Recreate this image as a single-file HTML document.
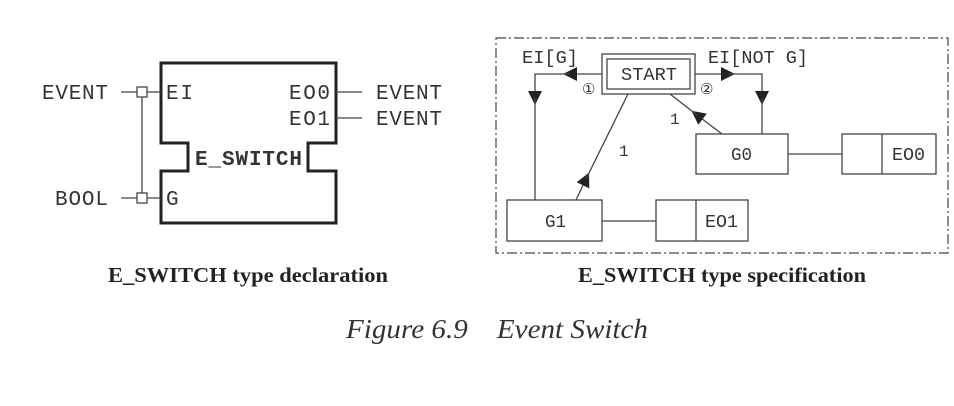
<!DOCTYPE html>
<html><head><meta charset="utf-8"><style>
body{margin:0;background:#fff;}
svg text{font-family:"Liberation Mono",monospace;fill:#333;}
</style></head><body>
<svg width="954" height="401" viewBox="0 0 954 401" xmlns="http://www.w3.org/2000/svg">
<defs><marker id="a" viewBox="0 0 10 10" refX="5" refY="5" markerWidth="16" markerHeight="14" markerUnits="userSpaceOnUse" orient="auto"><path d="M0,0 L10,5 L0,10z" fill="#222"/></marker></defs>
<!-- left block -->
<path d="M161,63 H336 V143 H308 V171 H336 V223 H161 V171 H188 V143 H161 Z" fill="none" stroke="#222" stroke-width="3"/>
<g stroke="#444" stroke-width="1.3" fill="#fff">
<line x1="121" y1="92" x2="161" y2="92"/><line x1="121" y1="198" x2="161" y2="198"/>
<line x1="142" y1="97" x2="142" y2="193"/>
<rect x="137" y="87" width="10" height="10"/><rect x="137" y="193" width="10" height="10"/>
<line x1="336" y1="92" x2="362" y2="92"/><line x1="336" y1="118" x2="362" y2="118"/>
</g>
<g font-size="21" lengthAdjust="spacingAndGlyphs">
<text x="42" y="99" textLength="66">EVENT</text><text x="55" y="205" textLength="53">BOOL</text>
<text x="166" y="99" textLength="27">EI</text><text x="166" y="205" textLength="14">G</text>
<text x="289" y="99" textLength="41">EO0</text><text x="289" y="125" textLength="41">EO1</text>
<text x="376" y="99" textLength="66">EVENT</text><text x="376" y="125" textLength="66">EVENT</text>
<text x="195" y="165" font-weight="bold" fill="#222" textLength="107">E_SWITCH</text>
</g>
<!-- right -->
<rect x="496" y="38" width="452" height="215" fill="none" stroke="#444" stroke-width="1.2" stroke-dasharray="10,3,2,3"/>
<g stroke="#444" stroke-width="1.3" fill="none">
<rect x="602" y="54" width="93" height="40"/><rect x="607" y="59" width="83" height="30"/>
<rect x="507" y="200" width="95" height="41"/>
<rect x="656" y="200" width="92" height="41"/><line x1="696" y1="200" x2="696" y2="241"/>
<rect x="696" y="134" width="92" height="40"/>
<rect x="842" y="134" width="94" height="40"/><line x1="882" y1="134" x2="882" y2="174"/>
<line x1="602" y1="221" x2="656" y2="221"/><line x1="788" y1="154" x2="842" y2="154"/>
<path d="M602,74 H570" marker-end="url(#a)"/><path d="M570,74 H535 V98" marker-end="url(#a)"/><path d="M535,98 V200"/>
<path d="M695,74 H728" marker-end="url(#a)"/><path d="M728,74 H762 V98" marker-end="url(#a)"/><path d="M762,98 V134"/>
<path d="M576,200 L586,179" marker-end="url(#a)"/><path d="M586,179 L628,94"/>
<path d="M722,134 L697,115" marker-end="url(#a)"/><path d="M697,115 L670,94"/>
</g>
<g font-size="18">
<text x="621" y="80" textLength="56" lengthAdjust="spacingAndGlyphs">START</text>
<text x="522" y="63" textLength="56" lengthAdjust="spacingAndGlyphs">EI[G]</text><text x="708" y="63" textLength="100" lengthAdjust="spacingAndGlyphs">EI[NOT G]</text>
<text x="545" y="227" textLength="21" lengthAdjust="spacingAndGlyphs">G1</text><text x="731" y="160" textLength="21" lengthAdjust="spacingAndGlyphs">G0</text>
<text x="705" y="227" textLength="33" lengthAdjust="spacingAndGlyphs">EO1</text><text x="892" y="160" textLength="33" lengthAdjust="spacingAndGlyphs">EO0</text>
<text x="619" y="156" font-size="16">1</text><text x="670" y="124" font-size="16">1</text>
<text x="582" y="94" font-size="15" fill="#666">①</text><text x="700" y="94" font-size="15" fill="#666">②</text>
</g>
<text x="108" y="282" textLength="280" lengthAdjust="spacingAndGlyphs" style="font-family:'Liberation Serif',serif;font-weight:bold;font-size:21px;fill:#222">E_SWITCH type declaration</text>
<text x="578" y="282" textLength="288" lengthAdjust="spacingAndGlyphs" style="font-family:'Liberation Serif',serif;font-weight:bold;font-size:21px;fill:#222">E_SWITCH type specification</text>
<text x="346" y="338" textLength="302" lengthAdjust="spacingAndGlyphs" style="font-family:'Liberation Serif',serif;font-style:italic;font-size:27px;fill:#333">Figure 6.9&#160;&#160;&#160;&#160;Event Switch</text>
</svg>
</body></html>
